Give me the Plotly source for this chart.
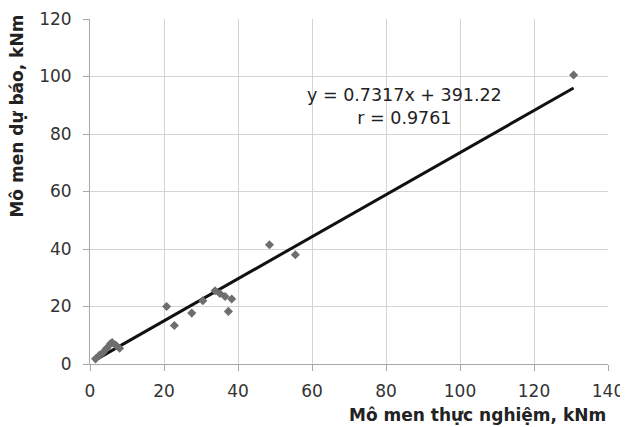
import plotly.graph_objects as go

# Measured (experimental) vs predicted moment, kNm
x_exp = [1.5, 2.5, 3.5, 4.5, 5.5, 6.0, 7.0, 8.0, 20.7, 22.8, 27.5, 30.5, 33.8, 35.1, 36.5, 37.4, 38.3, 48.5, 55.5, 130.7]
y_pred = [1.8, 3.0, 4.0, 5.5, 7.0, 7.5, 6.5, 5.5, 20.0, 13.4, 17.7, 22.0, 25.5, 24.5, 23.5, 18.3, 22.6, 41.5, 38.0, 100.5]

# Trend line endpoints (y = 0.7317x + 391.22 in N·m)
trend_x = [1.0, 130.7]
trend_y = [1.1, 96.0]

x_ticks = [0, 20, 40, 60, 80, 100, 120, 140]
y_ticks = [0, 20, 40, 60, 80, 100, 120]

eq_text = "y = 0.7317x + 391.22"
r_text = "r = 0.9761"
x_title = "Mô men thực nghiệm, kNm"
y_title = "Mô men dự báo, kNm"

font_family = "DejaVu Sans, Verdana, sans-serif"

fig = go.Figure()
fig.add_trace(go.Scatter(
    x=trend_x, y=trend_y, mode="lines",
    line=dict(color="#111111", width=3), showlegend=False, hoverinfo="skip"))
fig.add_trace(go.Scatter(
    x=x_exp, y=y_pred, mode="markers",
    marker=dict(symbol="diamond", size=7, color="#6e6e6e"),
    showlegend=False))

fig.add_annotation(x=0.608, y=0.746, xref="paper", yref="paper",
                   xanchor="center", yanchor="middle",
                   text=eq_text + "<br>" + r_text, showarrow=False,
                   font=dict(family=font_family, size=17.5, color="#222222"),
                   align="center")
fig.add_annotation(x=1.0, y=-0.148, xref="paper", yref="paper",
                   xanchor="right", yanchor="middle",
                   text="<b>" + x_title + "</b>", showarrow=False,
                   font=dict(family=font_family, size=17, color="#222222"))
fig.add_annotation(x=-0.141, y=0.72, xref="paper", yref="paper",
                   xanchor="center", yanchor="middle", textangle=-90,
                   text="<b>" + y_title + "</b>", showarrow=False,
                   font=dict(family=font_family, size=17, color="#222222"))

# the page body adds an 8px offset, so the figure is sized to the visible area
fig.update_layout(
    width=620, height=419,
    margin=dict(l=82, r=20, t=11, b=63),
    paper_bgcolor="white", plot_bgcolor="white",
    font=dict(family=font_family, size=17, color="#333333"),
    xaxis=dict(range=[0, 140], tickvals=x_ticks, showgrid=True,
               gridcolor="#d4d4d4", gridwidth=1, zeroline=False,
               showline=True, linecolor="#a8a8a8", linewidth=1,
               ticks="outside", ticklen=6, tickcolor="#a8a8a8",
               ticklabelstandoff=6, automargin=False),
    yaxis=dict(range=[0, 120], tickvals=y_ticks, showgrid=True,
               gridcolor="#d4d4d4", gridwidth=1, zeroline=False,
               showline=True, linecolor="#a8a8a8", linewidth=1,
               ticks="outside", ticklen=6, tickcolor="#a8a8a8",
               ticklabelstandoff=8, automargin=False),
)

fig.write_html("out.html")
